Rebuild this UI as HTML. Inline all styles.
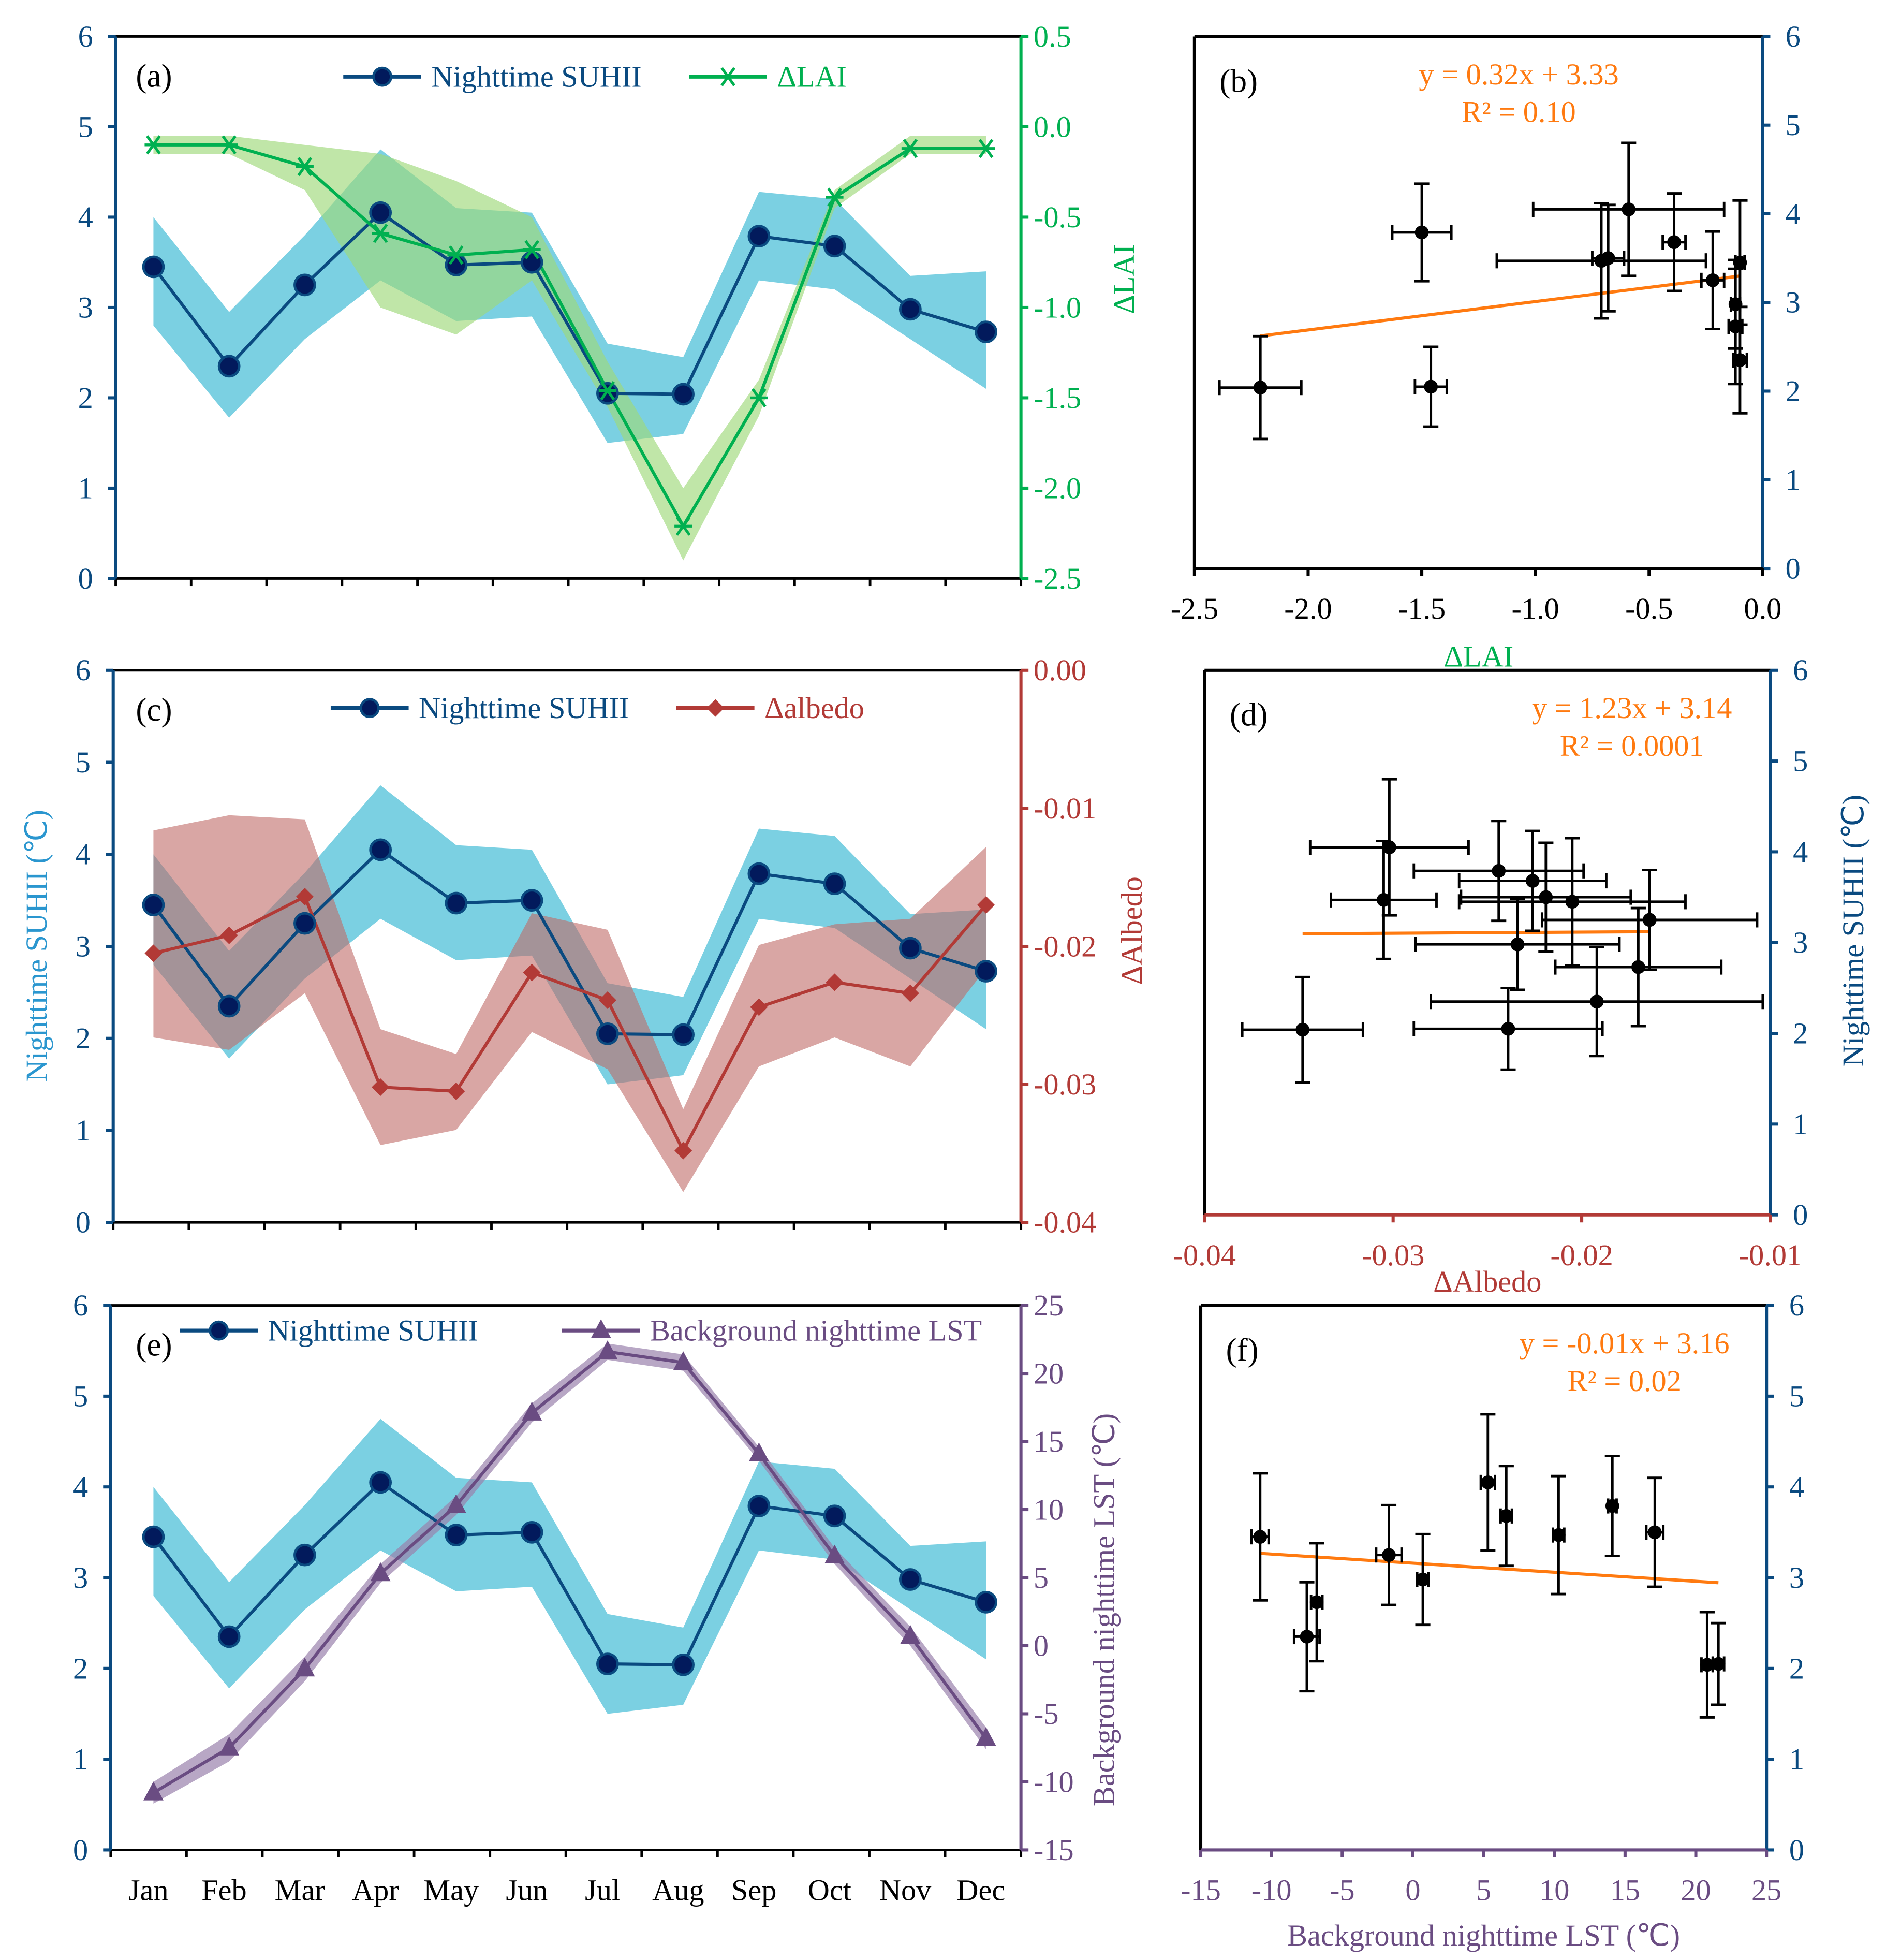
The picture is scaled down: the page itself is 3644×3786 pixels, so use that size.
<!DOCTYPE html>
<html><head><meta charset="utf-8"><style>
html,body{margin:0;padding:0;background:#fff}
svg{display:block}
svg text{font-family:"Liberation Serif","Times New Roman",serif}
</style></head><body>
<svg id="chart" width="3644" height="3786" viewBox="0 0 1500 1558.5" xmlns="http://www.w3.org/2000/svg" font-family="Liberation Serif, serif"></svg>
<script>
const months=["Jan","Feb","Mar","Apr","May","Jun","Jul","Aug","Sep","Oct","Nov","Dec"];
const suhii=[3.45,2.35,3.25,4.05,3.47,3.5,2.05,2.04,3.79,3.68,2.98,2.73];
const suhiiHi=[4.0,2.95,3.8,4.75,4.1,4.05,2.6,2.45,4.28,4.2,3.35,3.4];
const suhiiLo=[2.8,1.78,2.65,3.3,2.85,2.9,1.5,1.6,3.3,3.2,2.65,2.1];
const suhiiErr=[0.7,0.6,0.55,0.75,0.65,0.6,0.45,0.58,0.55,0.55,0.5,0.65];
const lai=[-0.1,-0.1,-0.22,-0.59,-0.71,-0.68,-1.46,-2.21,-1.5,-0.39,-0.12,-0.12];
const laiHi=[-0.05,-0.05,-0.1,-0.15,-0.3,-0.5,-1.3,-2.0,-1.4,-0.35,-0.05,-0.05];
const laiLo=[-0.15,-0.15,-0.35,-1.0,-1.15,-0.85,-1.55,-2.4,-1.6,-0.45,-0.15,-0.15];
const laiErr=[0.02,0.03,0.05,0.42,0.46,0.07,0.07,0.18,0.13,0.05,0.02,0.03];
const alb=[-0.0205,-0.0192,-0.0164,-0.0302,-0.0305,-0.0219,-0.0239,-0.0348,-0.0244,-0.0226,-0.0234,-0.017];
const albHi=[-0.0116,-0.0105,-0.0108,-0.026,-0.0278,-0.0176,-0.0188,-0.0318,-0.0199,-0.0184,-0.018,-0.0128];
const albLo=[-0.0266,-0.0275,-0.0234,-0.0344,-0.0333,-0.0262,-0.0289,-0.0378,-0.0287,-0.0266,-0.0287,-0.0216];
const albErr=[0.006,0.0088,0.0057,0.0042,0.0028,0.0045,0.005,0.0032,0.0045,0.0039,0.0054,0.0044];
const lst=[-10.8,-7.5,-1.7,5.3,10.3,17.1,21.6,20.8,14.1,6.6,0.7,-6.8];
const lstHi=[-10.0,-6.5,-0.8,6.0,11.0,17.8,22.2,21.4,14.6,7.2,1.4,-6.0];
const lstLo=[-11.6,-8.5,-2.6,4.6,9.6,16.4,21.0,20.2,13.6,6.0,0.0,-7.6];
const lstErr=[0.6,0.9,0.9,0.5,0.4,0.6,0.4,0.4,0.3,0.4,0.4,0.4];
const leftTicks=[0,1,2,3,4,5,6];
const laiTicks=[0.5,0,-0.5,-1,-1.5,-2,-2.5];
const albTicks=[0,-0.01,-0.02,-0.03,-0.04];
const lstTicks=[25,20,15,10,5,0,-5,-10,-15];
const bLaiTicks=[-2.5,-2,-1.5,-1,-0.5,0];
const dAlbTicks=[-0.04,-0.03,-0.02,-0.01];
const fLstTicks=[-15,-10,-5,0,5,10,15,20,25];
const fit={b:[0.32,3.33],d:[1.23,3.14],f:[-0.01,3.16]};

const NS="http://www.w3.org/2000/svg";
const svg=document.getElementById('chart');
function el(tag,attrs,parent){const e=document.createElementNS(NS,tag);for(const k in attrs)e.setAttribute(k,attrs[k]);(parent||svg).appendChild(e);return e;}
function txt(s,x,y,attrs,parent){const t=el('text',Object.assign({x:x,y:y,'font-family':'Liberation Serif, serif'},attrs),parent);t.textContent=s;return t;}
const NAVY="#0a4a80",CYAN="#74cde0",GREEN="#00b050",RED="#b23a36",PURP="#6a4c82",ORANGE="#ff7a10";
const monthX=i=>122+i*60.2;
function lin(d0,d1,p0,p1){return v=>p0+(v-d0)*(p1-p0)/(d1-d0);}
function line(x1,y1,x2,y2,c,w,parent){return el('line',{x1,y1,x2,y2,stroke:c,'stroke-width':w},parent);}

function timePanel(id,x0,x1,yTop,yBot,rDom,rTicks,rFmt,rColor,second,sHi,sLo,sColor,bandColor,bandOp,marker,legend,label){
  const g=el('g',{});
  
  
  const yL=lin(0,6,yBot,yTop), yR=lin(rDom[0],rDom[1],yBot,yTop);
  let p='';months.forEach((m,i)=>p+=(i?'L':'M')+monthX(i)+','+yL(suhiiHi[i]));
  for(let i=11;i>=0;i--)p+='L'+monthX(i)+','+yL(suhiiLo[i]);
  const b1=el('path',{d:p+'Z',fill:CYAN,opacity:0.95},g);
  
  
  p='';months.forEach((m,i)=>p+=(i?'L':'M')+monthX(i)+','+yR(sHi[i]));
  for(let i=11;i>=0;i--)p+='L'+monthX(i)+','+yR(sLo[i]);
  const b2=el('path',{d:p+'Z',fill:bandColor,opacity:bandOp},g);
  
  
  line(x0,yTop,x1,yTop,'#000',2,g);
  line(x0,yBot,x1,yBot,'#000',2,g);
  line(x0,yTop,x0,yBot,NAVY,2.5,g);
  line(x1,yTop,x1,yBot,rColor,2.5,g);
  for(let k=0;k<=12;k++){line(x0+k*(x1-x0)/12,yBot,x0+k*(x1-x0)/12,yBot+6,'#000',2,g);}
  leftTicks.forEach(v=>{line(x0-6,yL(v),x0,yL(v),NAVY,2.5,g);txt(v,x0-24,yL(v)+8,{'font-size':24,fill:NAVY,'text-anchor':'middle'},g);});
  rTicks.forEach(v=>{line(x1,yR(v),x1+6,yR(v),rColor,2.5,g);txt(rFmt(v),x1+10,yR(v)+8,{'font-size':24,fill:rColor},g);});
  p='';months.forEach((m,i)=>p+=(i?'L':'M')+monthX(i)+','+yL(suhii[i]));
  const l1=el('path',{d:p,fill:'none',stroke:NAVY,'stroke-width':2.5},g);
  
  
  p='';months.forEach((m,i)=>p+=(i?'L':'M')+monthX(i)+','+yR(second[i]));
  const l2=el('path',{d:p,fill:'none',stroke:sColor,'stroke-width':2.5},g);
  
  
  months.forEach((m,i)=>{
    const c=el('circle',{cx:monthX(i),cy:yL(suhii[i]),r:8,fill:'#021a5c',stroke:NAVY,'stroke-width':2},g);
    
    
    marker(monthX(i),yR(second[i]),g);
  });
  line(legend[0],legend[2],legend[0]+62,legend[2],NAVY,3,g);
  el('circle',{cx:legend[0]+31,cy:legend[2],r:7,fill:'#021a5c',stroke:NAVY,'stroke-width':2},g);
  const t1=txt('Nighttime SUHII',legend[0]+70,legend[2]+8,{'font-size':24,fill:NAVY},g);
  
  
  line(legend[1],legend[2],legend[1]+62,legend[2],sColor,3,g);
  marker(legend[1]+31,legend[2],g);
  const t2=txt(legend[3],legend[1]+70,legend[2]+8,{'font-size':24,fill:sColor},g);
  
  
  const pl=txt(label,108,yTop+40,{'font-size':26,fill:'#000'},g);
  
  
  return {yL,yR,g};
}
function star(x,y,g){line(x-7,y,x+7,y,GREEN,2.2,g);line(x-5,y-7,x+5,y+7,GREEN,2.2,g);line(x+5,y-7,x-5,y+7,GREEN,2.2,g);}
function diamond(x,y,g){el('path',{d:`M${x},${y-7}L${x+7},${y}L${x},${y+7}L${x-7},${y}Z`,fill:RED},g);}
function tri(x,y,g){el('path',{d:`M${x},${y-9}L${x+8},${y+6}L${x-8},${y+6}Z`,fill:PURP},g);}

const fmt1=v=>v.toFixed(1), fmt2=v=>v.toFixed(2), fmt0=v=>String(v);
timePanel('a',92,812,29,460,[-2.5,0.5],laiTicks,fmt1,GREEN,lai,laiHi,laiLo,GREEN,'#9ed87a',0.65,star,[273,548,61,'ΔLAI'],'(a)');
timePanel('c',90,812,533,972,[-0.04,0],albTicks,fmt2,RED,alb,albHi,albLo,RED,'#c06a68',0.6,diamond,[263,538,563,'Δalbedo'],'(c)');
timePanel('e',88,812,1038,1471,[-15,25],lstTicks,fmt0,PURP,lst,lstHi,lstLo,PURP,'#9a82ad',0.7,tri,[143,447,1058,'Background nighttime LST'],'(e)');
months.forEach((m,i)=>{const t=txt(m,monthX(i)-4,1511,{'font-size':24,fill:'#000','text-anchor':'middle'});

});

function vtitle(s,x,y,c,name){const t=txt(s,x,y,{'font-size':24,fill:c,'text-anchor':'middle',transform:`rotate(-90 ${x} ${y})`});}
vtitle('Nighttime SUHII (℃)',37,752,'#2a96cf','left-y-axis-title');
vtitle('ΔLAI',902,222,GREEN,'lai-y-axis-title');
vtitle('ΔAlbedo',908,740,RED,'albedo-y-axis-title');
vtitle('Background  nighttime LST (℃)',886,1280,PURP,'lst-y-axis-title');
vtitle('Nighttime SUHII (℃)',1482,740,NAVY,'right-y-axis-title');

function scatterPanel(id,x0,x1,yTop,yBot,xd,xTicks,xFmt,xColor,xs,xerr,xTitle,titleColor,titleY,eq,eqX,label){
  const g=el('g',{});
  
  
  const X=lin(xd[0],xd[1],x0,x1),Y=lin(0,6,yBot,yTop);
  line(x0,yTop,x1,yTop,'#000',2.5,g);line(x0,yTop,x0,yBot,'#000',2.5,g);
  line(x1,yTop,x1,yBot,NAVY,2.5,g);line(x0,yBot,x1,yBot,xColor,2.5,g);
  leftTicks.forEach(v=>{line(x1,Y(v),x1+6,Y(v),NAVY,2.5,g);txt(v,x1+24,Y(v)+8,{'font-size':24,fill:NAVY,'text-anchor':'middle'},g);});
  xTicks.forEach(v=>{line(X(v),yBot,X(v),yBot+6,xColor,2.5,g);txt(xFmt(v),X(v),yBot+40,{'font-size':24,fill:xColor,'text-anchor':'middle'},g);});
  const tt=txt(xTitle,(x0+x1)/2,titleY,{'font-size':24,fill:titleColor,'text-anchor':'middle'},g);
  
  
  const lo=Math.min(...xs),hi=Math.max(...xs);
  const f=fit[id];
  const fl=line(X(lo),Y(f[0]*lo+f[1]),X(hi),Y(f[0]*hi+f[1]),ORANGE,2.5,g);
  
  
  xs.forEach((xv,i)=>{
    const px=X(xv),py=Y(suhii[i]),xa=X(xv-xerr[i]),xb=X(xv+xerr[i]),ya=Y(suhii[i]-suhiiErr[i]),yb=Y(suhii[i]+suhiiErr[i]);
    line(xa,py,xb,py,'#000',2,g);line(xa,py-6,xa,py+6,'#000',2,g);line(xb,py-6,xb,py+6,'#000',2,g);
    line(px,ya,px,yb,'#000',2,g);line(px-6,ya,px+6,ya,'#000',2,g);line(px-6,yb,px+6,yb,'#000',2,g);
    const c=el('circle',{cx:px,cy:py,r:5.5,fill:'#000'},g);
    
    
  });
  txt(eq[0],eqX,yTop+38,{'font-size':24,fill:ORANGE,'text-anchor':'middle'},g);
  txt(eq[1],eqX,yTop+68,{'font-size':24,fill:ORANGE,'text-anchor':'middle'},g);
  txt(label,x0+20,yTop+44,{'font-size':26,fill:'#000'},g);
}
scatterPanel('b',950,1402,29,452,[-2.5,0],bLaiTicks,fmt1,'#000',lai,laiErr,'ΔLAI',GREEN,530,['y = 0.32x + 3.33','R² = 0.10'],1208,'(b)');
scatterPanel('d',958,1408,533,966,[-0.04,-0.01],dAlbTicks,fmt2,RED,alb,albErr,'ΔAlbedo',RED,1027,['y = 1.23x + 3.14','R² = 0.0001'],1298,'(d)');
scatterPanel('f',955,1405,1038,1471,[-15,25],fLstTicks,fmt0,PURP,lst,lstErr,'Background nighttime LST (℃)',PURP,1547,['y = -0.01x + 3.16','R² = 0.02'],1292,'(f)');
</script>
</body></html>
